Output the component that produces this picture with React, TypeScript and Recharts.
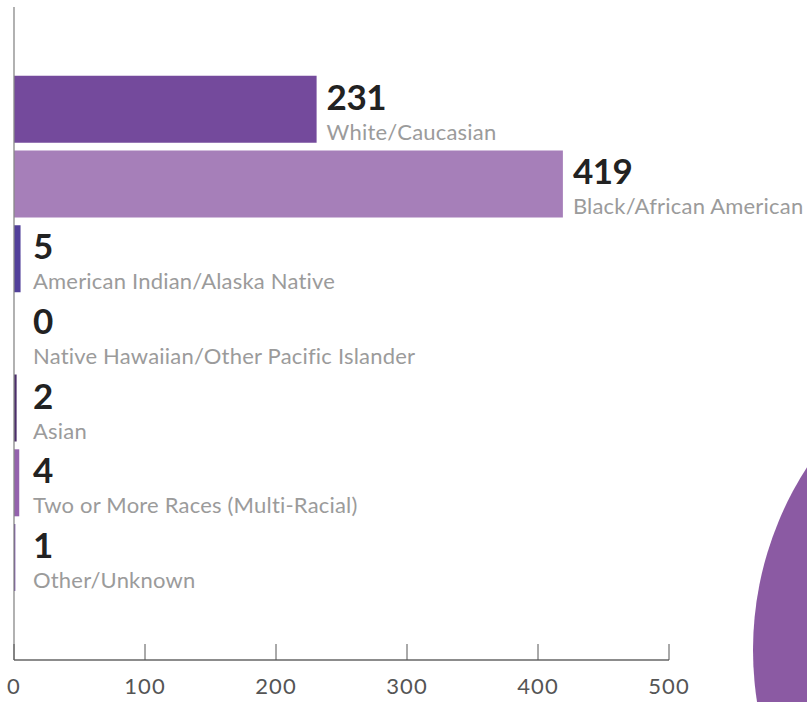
import React from "react";
import { BarChart, Bar, XAxis, YAxis, Cell, LabelList, ReferenceLine } from "recharts";

const categories = [
  "White/Caucasian",
  "Black/African American",
  "American Indian/Alaska Native",
  "Native Hawaiian/Other Pacific Islander",
  "Asian",
  "Two or More Races (Multi-Racial)",
  "Other/Unknown",
];
const counts = [231, 419, 5, 0, 2, 4, 1];
const barColors = ["#744a9c", "#a67fb9", "#52409a", "#8a5aa3", "#4b2e6b", "#9462ad", "#6a3ea0"];
const xTicks = [0, 100, 200, 300, 400, 500];

const data = categories.map((name, i) => ({ name, value: counts[i] }));

const labelX = (x: number, width: number) => Math.max(x + width + 10, 33);

const ValueLabel = (props: any) => {
  const { x, y, width, value } = props;
  return (
    <text
      x={labelX(Number(x), Number(width))}
      y={Number(y) + 34}
      fill="#222"
      fontSize={35}
      fontWeight={700}
      fontFamily="Lato, sans-serif"
      letterSpacing={-0.5}
    >
      {value}
    </text>
  );
};

const NameLabel = (props: any) => {
  const { x, y, width, value } = props;
  return (
    <text
      x={labelX(Number(x), Number(width))}
      y={Number(y) + 64}
      fill="#9b9b9b"
      fontSize={22}
      fontFamily="Lato, sans-serif"
      letterSpacing={0.2}
    >
      {value}
    </text>
  );
};

export default function App() {
  return (
    <div
      style={{
        position: "absolute",
        left: 0,
        top: 0,
        width: 807,
        height: 702,
        overflow: "hidden",
        background: "#fff",
      }}
    >
      {/* decorative shape at bottom right */}
      <div
        style={{
          position: "absolute",
          left: 753,
          top: 314,
          width: 672,
          height: 672,
          borderRadius: "50%",
          background: "#8b5aa3",
        }}
      />
      <BarChart
        width={807}
        height={702}
        data={data}
        layout="vertical"
        margin={{ top: 7, right: 138, bottom: 0, left: 14 }}
        barCategoryGap="5%"
        style={{ position: "absolute", left: 0, top: 0 }}
      >
        <XAxis
          type="number"
          domain={[0, 500]}
          ticks={xTicks}
          height={42}
          axisLine={{ stroke: "#666", strokeWidth: 1.3 }}
          tickLine={{ stroke: "#555" }}
          tickSize={-16}
          tickMargin={34}
          tick={{ fill: "#555", fontSize: 22, fontFamily: "Lato, sans-serif", letterSpacing: 1 }}
          interval={0}
        />
        <YAxis
          type="category"
          dataKey="name"
          width={0}
          tick={false}
          tickLine={false}
          axisLine={false}
          padding={{ top: 65, bottom: 65 }}
        />
        <ReferenceLine x={0} stroke="#888" strokeWidth={1.3} />
        <Bar
          dataKey="value"
          isAnimationActive={false}
          minPointSize={(v: number) => (v === 0 ? 0.01 : 0)}
        >
          {data.map((d, i) => (
            <Cell key={d.name} fill={barColors[i]} />
          ))}
          <LabelList dataKey="value" content={ValueLabel} />
          <LabelList dataKey="name" content={NameLabel} />
        </Bar>
      </BarChart>
    </div>
  );
}
